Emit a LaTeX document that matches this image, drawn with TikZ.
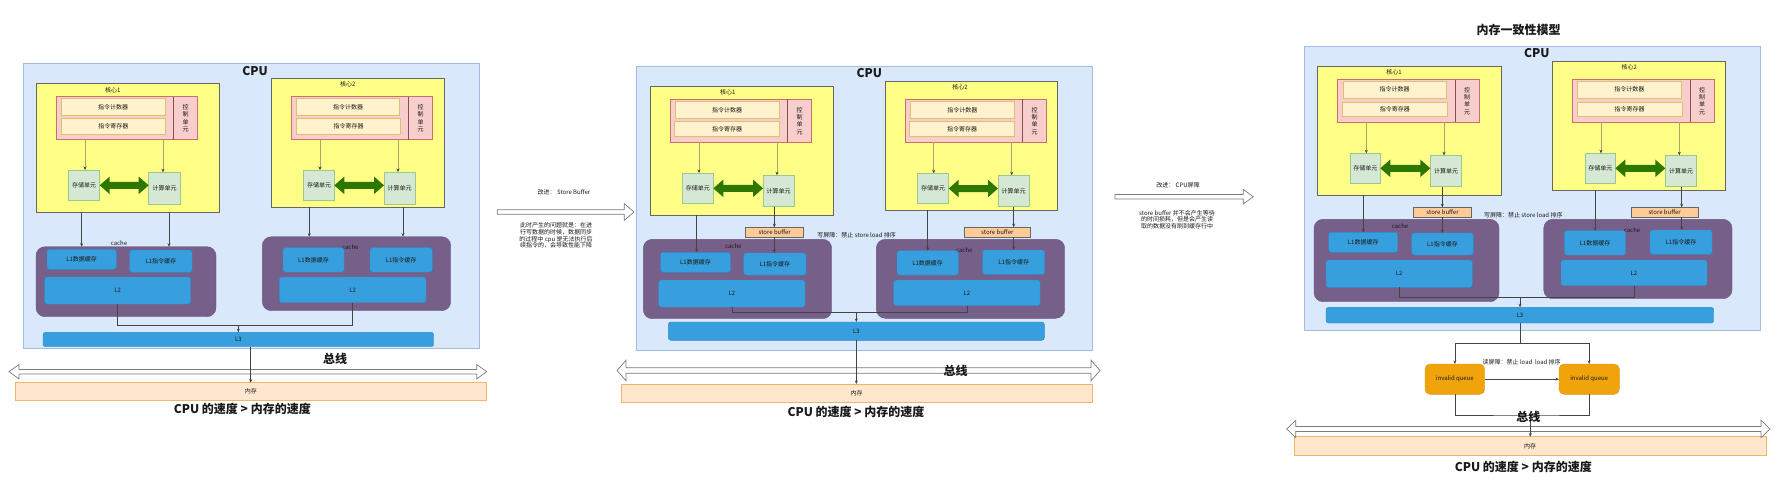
\documentclass[tikz,border=0pt]{standalone}
\usepackage{fontspec}
\setmainfont{Noto Sans CJK SC}
\usetikzlibrary{arrows.meta,calc}
\definecolor{cpuF}{HTML}{DAE8FC}\definecolor{cpuE}{HTML}{A3BCE3}
\definecolor{coreF}{HTML}{FFFF88}\definecolor{coreE}{HTML}{666666}
\definecolor{ctrlF}{HTML}{F8CECC}\definecolor{ctrlE}{HTML}{C8706C}
\definecolor{regF}{HTML}{FFF2CC}\definecolor{regE}{HTML}{E0C070}
\definecolor{unitF}{HTML}{D5E8D4}\definecolor{unitE}{HTML}{9CC98A}
\definecolor{garrow}{HTML}{2D7600}
\definecolor{olv}{HTML}{A8A86C}
\definecolor{cacheF}{HTML}{76608A}\definecolor{cacheE}{HTML}{6A5580}
\definecolor{blueF}{HTML}{389FDF}\definecolor{blueE}{HTML}{2A8AD0}
\definecolor{sbF}{HTML}{FFCC99}\definecolor{sbE}{HTML}{666666}
\definecolor{iqF}{HTML}{F0A30A}\definecolor{iqE}{HTML}{D99A1A}
\definecolor{memF}{HTML}{FFE6CC}\definecolor{memE}{HTML}{EBB86A}
\definecolor{busE}{HTML}{7A7A7A}
\definecolor{lineC}{HTML}{444444}
\newcommand{\smallcn}{\fontsize{6}{7}\selectfont}
\newcommand{\bigcn}{\fontsize{12}{14}\selectfont\bfseries}
\newcommand{\mkbox}[7]{\node[#2,minimum width={(#5-(#3))*1pt},minimum height={(#6-(#4))*1pt},font=\smallcn] (#1) at ({(#3+#5)/2},{(#4+#6)/2}) {#7};}
\newcommand{\dblfat}[6]{%
 \path[#1] let \p1=(#2), \p2=(#3) in
 (\x1,\y1) -- (\x1+#6pt,\y1+#5pt) -- (\x1+#6pt,\y1+#4pt) -- (\x2-#6pt,\y2+#4pt) -- (\x2-#6pt,\y2+#5pt) -- (\x2,\y2) -- (\x2-#6pt,\y2-#5pt) -- (\x2-#6pt,\y2-#4pt) -- (\x1+#6pt,\y1-#4pt) -- (\x1+#6pt,\y1-#5pt) -- cycle;}
\newcommand{\onefat}[6]{%
 \path[#1] let \p1=(#2), \p2=(#3) in
 (\x1,\y1+#4pt) -- (\x2-#6pt,\y2+#4pt) -- (\x2-#6pt,\y2+#5pt) -- (\x2,\y2) -- (\x2-#6pt,\y2-#5pt) -- (\x2-#6pt,\y2-#4pt) -- (\x1,\y1-#4pt) -- cycle;}
\begin{document}
\begin{tikzpicture}[x=1pt,y=-1pt,
 every node/.style={inner sep=0pt,outer sep=0pt,text=black!90},
 cpu/.style={draw=cpuE,fill=cpuF,line width=0.9pt},
 core/.style={draw=coreE,fill=coreF,line width=0.7pt},
 ctrl/.style={draw=ctrlE,fill=ctrlF,line width=0.7pt},
 reg/.style={draw=regE,fill=regF,line width=0.7pt},
 unit/.style={draw=unitE,fill=unitF,line width=0.7pt},
 cache/.style={draw=cacheE,fill=cacheF,rounded corners=9pt},
 blue/.style={draw=blueE,fill=blueF,rounded corners=2.5pt},
 sbuf/.style={draw=sbE,fill=sbF,line width=0.6pt},
 iq/.style={draw=iqE,fill=iqF,rounded corners=5pt},
 mem/.style={draw=memE,fill=memF,line width=0.7pt},
 bus/.style={draw=busE,fill=white,line width=0.7pt},
 green/.style={fill=garrow},
 lbl/.style={font=\smallcn},
 vt/.style={font=\fontsize{6}{7.3}\selectfont,align=center},
 para/.style={font=\fontsize{6}{6.8}\selectfont,align=center},
 big/.style={font=\bigcn},
 divl/.style={draw=ctrlE!70!black,line width=0.6pt},
 ln/.style={draw=lineC,line width=0.6pt},
 arr/.style={draw=lineC,line width=0.6pt,-{Stealth[length=3.5pt,width=3pt]}},
 oarr/.style={draw=olv,line width=0.8pt,-{Stealth[length=3.5pt,width=3pt,color=black!75]}}]
\useasboundingbox (0,0) rectangle (1792,487);

% ================= Panel A =================
\mkbox{cpuA}{cpu}{23}{63}{479}{348}{}
\node[big] (cpuAl) at (255,70.7) {CPU};
\mkbox{coreAa}{core}{36.3}{83.3}{219.3}{212.7}{}
\node[lbl] (coreAal) at (112.7,90) {核心1};
\mkbox{ctrlAa}{ctrl}{56}{96.7}{197.7}{139.7}{}
\draw[divl] (173.7,0 |- ctrlAa.north) -- (173.7,0 |- ctrlAa.south);
\mkbox{pcAa}{reg}{61}{98.3}{165.3}{115.3}{指令计数器}
\mkbox{irAa}{reg}{61}{118.3}{165.7}{134}{指令寄存器}
\node[vt] (ctAa) at (185.7,118.2) {控\\制\\单\\元};
\mkbox{stAa}{unit}{68.7}{170}{99.7}{200.7}{存储单元}
\mkbox{cuAa}{unit}{148.7}{172.3}{180.7}{204}{计算单元}
\draw[oarr] (85,0 |- ctrlAa.south) -- (85,0 |- stAa.north);
\draw[oarr] (163,0 |- ctrlAa.south) -- (163,0 |- cuAa.north);
\dblfat{green}{stAa.east}{cuAa.west |- stAa.east}{3.5}{8.8}{10}

\mkbox{coreAb}{core}{271}{78.3}{444.3}{207.3}{}
\node[lbl] (coreAbl) at (347.7,84.7) {核心2};
\mkbox{ctrlAb}{ctrl}{291.3}{96.7}{432.7}{139.7}{}
\draw[divl] (408.7,0 |- ctrlAb.north) -- (408.7,0 |- ctrlAb.south);
\mkbox{pcAb}{reg}{296.3}{98.3}{399.7}{115.3}{指令计数器}
\mkbox{irAb}{reg}{296.3}{118.3}{400.7}{134}{指令寄存器}
\node[vt] (ctAb) at (420.7,118.2) {控\\制\\单\\元};
\mkbox{stAb}{unit}{303.7}{170}{334.3}{200.7}{存储单元}
\mkbox{cuAb}{unit}{384}{172}{415.3}{204}{计算单元}
\draw[oarr] (320,0 |- ctrlAb.south) -- (320,0 |- stAb.north);
\draw[oarr] (398,0 |- ctrlAb.south) -- (398,0 |- cuAb.north);
\dblfat{green}{stAb.east}{cuAb.west |- stAb.east}{3.5}{8.8}{10}

\mkbox{cacheAa}{cache}{36}{246.7}{216}{316.7}{}
\node[lbl] (cacheAal) at (119,242.7) {cache};
\mkbox{l1dAa}{blue}{47}{249.3}{116.3}{269.3}{L1数据缓存}
\mkbox{l1iAa}{blue}{129.7}{250}{192}{272.3}{L1指令缓存}
\mkbox{l2Aa}{blue}{44.7}{277}{190.7}{304}{L2}
\draw[arr] (81.7,0 |- coreAa.south) -- (81.7,0 |- cacheAa.north);
\draw[arr] (169,0 |- coreAa.south) -- (169,0 |- cacheAa.north);

\mkbox{cacheAb}{cache}{262.3}{236.7}{450.7}{310.7}{}
\node[lbl] (cacheAbl) at (350.3,246.7) {cache};
\mkbox{l1dAb}{blue}{283}{247.7}{344}{272}{L1数据缓存}
\mkbox{l1iAb}{blue}{370}{247.7}{432.3}{272}{L1指令缓存}
\mkbox{l2Ab}{blue}{279.3}{277}{426}{302.7}{L2}
\draw[arr] (309.3,0 |- coreAb.south) -- (309.3,0 |- cacheAb.north);
\draw[arr] (403,0 |- coreAb.south) -- (403,0 |- cacheAb.north);

\mkbox{l3A}{blue}{43}{332.3}{433.7}{346.7}{L3}
\coordinate (jA) at (238.3,325.5);
\draw[ln] (l2Aa.south) |- (jA) -| (l2Ab.south);
\draw[arr] (jA) -- (jA |- l3A.north);

\mkbox{memA}{mem}{15}{382.7}{486.7}{400.3}{内存}
\coordinate (busAl) at (9,371.7);
\coordinate (busAr) at (486.7,371.7);
\dblfat{bus}{busAl}{busAr}{2.2}{7.2}{10}
\draw[arr] (250.7,0 |- l3A.south) -- (250.7,0 |- memA.north);
\node[big] (busAt) at (335,359.3) {总线};
\node[big] (spdA) at (242.3,408.5) {CPU 的速度 >\ 内存的速度};

% ---- A -> B
\coordinate (abl) at (497.3,212);
\coordinate (abr) at (634,212);
\onefat{bus}{abl}{abr}{2.2}{8.3}{9.7}
\node[lbl] (abt) at (564,192.7) {改进： Store Buffer};
\node[para] (abp) at (556,235.5) {此时产生的问题就是：在进\\行写数据的时候，数据同步\\的过程中 cpu 是无法执行后\\续指令的，会导致性能下降};

% ================= Panel B =================
\mkbox{cpuB}{cpu}{636.7}{66}{1092.7}{350}{}
\node[big] (cpuBl) at (869.3,73.3) {CPU};
\mkbox{coreBa}{core}{650.3}{86.7}{833.3}{215.3}{}
\node[lbl] (coreBal) at (727.7,92.7) {核心1};
\mkbox{ctrlBa}{ctrl}{670.3}{99.3}{811.3}{142.3}{}
\draw[divl] (787.7,0 |- ctrlBa.north) -- (787.7,0 |- ctrlBa.south);
\mkbox{pcBa}{reg}{675.3}{101.7}{779}{118}{指令计数器}
\mkbox{irBa}{reg}{674.3}{121.7}{779.7}{136.7}{指令寄存器}
\node[vt] (ctBa) at (799.5,120.8) {控\\制\\单\\元};
\mkbox{stBa}{unit}{682.3}{173}{713.3}{203.7}{存储单元}
\mkbox{cuBa}{unit}{763}{175.3}{794.3}{206.7}{计算单元}
\draw[oarr] (699,0 |- ctrlBa.south) -- (699,0 |- stBa.north);
\draw[oarr] (777,0 |- ctrlBa.south) -- (777,0 |- cuBa.north);
\dblfat{green}{stBa.east}{cuBa.west |- stBa.east}{3.5}{8.8}{10}

\mkbox{coreBb}{core}{885}{81.3}{1057.7}{210.3}{}
\node[lbl] (coreBbl) at (960,87.7) {核心2};
\mkbox{ctrlBb}{ctrl}{905}{99.3}{1046.3}{142.3}{}
\draw[divl] (1022.7,0 |- ctrlBb.north) -- (1022.7,0 |- ctrlBb.south);
\mkbox{pcBb}{reg}{910.3}{101.7}{1014.3}{118}{指令计数器}
\mkbox{irBb}{reg}{909.7}{121.7}{1014.3}{136.7}{指令寄存器}
\node[vt] (ctBb) at (1034.5,120.8) {控\\制\\单\\元};
\mkbox{stBb}{unit}{917.7}{173.3}{948.7}{203.7}{存储单元}
\mkbox{cuBb}{unit}{998}{175.3}{1029.3}{206.7}{计算单元}
\draw[oarr] (933.7,0 |- ctrlBb.south) -- (933.7,0 |- stBb.north);
\draw[oarr] (1011.7,0 |- ctrlBb.south) -- (1011.7,0 |- cuBb.north);
\dblfat{green}{stBb.east}{cuBb.west |- stBb.east}{3.5}{8.8}{10}

\mkbox{sbBa}{sbuf}{745.7}{227.3}{803.7}{237.3}{store buffer}
\mkbox{sbBb}{sbuf}{964.3}{227.3}{1030.3}{237.3}{store buffer}
\node[lbl] (wbB) at (856.7,235) {写屏障：禁止 store load 排序};

\mkbox{cacheBa}{cache}{643.3}{239.3}{831.7}{318.7}{}
\node[lbl] (cacheBal) at (733.3,246) {cache};
\mkbox{l1dBa}{blue}{660.7}{252.3}{730.3}{272.3}{L1数据缓存}
\mkbox{l1iBa}{blue}{743.7}{253}{806}{275}{L1指令缓存}
\mkbox{l2Ba}{blue}{658.7}{280}{805}{307}{L2}
\mkbox{cacheBb}{cache}{876.3}{239.3}{1064.7}{318.3}{}
\node[lbl] (cacheBbl) at (964.3,250) {cache};
\mkbox{l1dBb}{blue}{897}{250.7}{958.3}{275}{L1数据缓存}
\mkbox{l1iBb}{blue}{982.7}{250}{1044.7}{274.3}{L1指令缓存}
\mkbox{l2Bb}{blue}{893.7}{280}{1040}{305.7}{L2}

\draw[arr] (696.7,0 |- coreBa.south) -- (696.7,0 |- l1dBa.north);
\draw[arr] (774.3,0 |- cuBa.south) -- (774.3,0 |- sbBa.north);
\draw[arr] (774.3,0 |- sbBa.south) -- (774.3,0 |- l1iBa.north);
\draw[arr] (927.7,0 |- coreBb.south) -- (927.7,0 |- l1dBb.north);
\draw[arr] (1013.7,0 |- cuBb.south) -- (1013.7,0 |- sbBb.north);
\draw[arr] (1013.7,0 |- sbBb.south) -- (1013.7,0 |- l1iBb.north);

\mkbox{l3B}{blue}{668.3}{322}{1044.3}{340.3}{L3}
\coordinate (jB) at (856.3,312.7);
\draw[ln] (l2Ba.south) |- (jB) -| (l2Bb.south);
\draw[arr] (jB) -- (jB |- l3B.north);

\mkbox{memB}{mem}{621}{384}{1092.3}{402}{内存}
\coordinate (busBl) at (617,370.5);
\coordinate (busBr) at (1100,370.5);
\dblfat{bus}{busBl}{busBr}{2.8}{10.3}{9}
\draw[arr] (856.3,0 |- l3B.south) -- (856.3,0 |- memB.north);
\node[big] (busBt) at (955.7,370.7) {总线};
\node[big] (spdB) at (856,412.3) {CPU 的速度 >\ 内存的速度};

% ---- B -> C
\coordinate (bcl) at (1115,196.7);
\coordinate (bcr) at (1253.3,196.7);
\onefat{bus}{bcl}{bcr}{2.3}{7.2}{10}
\node[lbl] (bct) at (1178,185) {改进： CPU屏障};
\node[para] (bcp) at (1177,219.7) {store buffer 并不会产生等待\\的时间损耗，但是会产生读\\取的数据没有刷到缓存行中};

% ================= Panel C =================
\node[big] (titleC) at (1518.7,30) {内存一致性模型};
\mkbox{cpuC}{cpu}{1304.3}{46}{1760}{330}{}
\node[big] (cpuCl) at (1536.7,53.3) {CPU};
\mkbox{coreCa}{core}{1317.7}{66.7}{1501}{195.3}{}
\node[lbl] (coreCal) at (1394,72.7) {核心1};
\mkbox{ctrlCa}{ctrl}{1337.3}{79.7}{1479}{122.3}{}
\draw[divl] (1455.3,0 |- ctrlCa.north) -- (1455.3,0 |- ctrlCa.south);
\mkbox{pcCa}{reg}{1343}{81.3}{1446}{98}{指令计数器}
\mkbox{irCa}{reg}{1342.3}{102}{1447.3}{116.7}{指令寄存器}
\node[vt] (ctCa) at (1467.2,101) {控\\制\\单\\元};
\mkbox{stCa}{unit}{1350.3}{153.3}{1380.3}{183.3}{存储单元}
\mkbox{cuCa}{unit}{1430.3}{155.3}{1461.7}{186.7}{计算单元}
\draw[oarr] (1366.3,0 |- ctrlCa.south) -- (1366.3,0 |- stCa.north);
\draw[oarr] (1444,0 |- ctrlCa.south) -- (1444,0 |- cuCa.north);
\dblfat{green}{stCa.east}{cuCa.west |- stCa.east}{3.5}{8.8}{10}

\mkbox{coreCb}{core}{1552.7}{61.7}{1725.3}{190}{}
\node[lbl] (coreCbl) at (1629.3,67.7) {核心2};
\mkbox{ctrlCb}{ctrl}{1572.3}{79.7}{1714}{122.3}{}
\draw[divl] (1690.3,0 |- ctrlCb.north) -- (1690.3,0 |- ctrlCb.south);
\mkbox{pcCb}{reg}{1577.7}{81.3}{1681}{98}{指令计数器}
\mkbox{irCb}{reg}{1577}{102}{1682.3}{116.7}{指令寄存器}
\node[vt] (ctCb) at (1702.2,101) {控\\制\\单\\元};
\mkbox{stCb}{unit}{1585.3}{153.3}{1615.3}{183.3}{存储单元}
\mkbox{cuCb}{unit}{1665.3}{155.3}{1696.7}{186.7}{计算单元}
\draw[oarr] (1601,0 |- ctrlCb.south) -- (1601,0 |- stCb.north);
\draw[oarr] (1679.3,0 |- ctrlCb.south) -- (1679.3,0 |- cuCb.north);
\dblfat{green}{stCb.east}{cuCb.west |- stCb.east}{3.5}{8.8}{10}

\mkbox{sbCa}{sbuf}{1413.3}{207.3}{1471.7}{217.3}{store buffer}
\mkbox{sbCb}{sbuf}{1631.3}{207.3}{1698}{217.3}{store buffer}
\node[lbl] (wbC) at (1523.3,215) {写屏障：禁止 store load 排序};

\mkbox{cacheCa}{cache}{1314}{219.3}{1499}{301.7}{}
\node[lbl] (cacheCal) at (1400,226) {cache};
\mkbox{l1dCa}{blue}{1328.7}{232.3}{1397.7}{252.3}{L1数据缓存}
\mkbox{l1iCa}{blue}{1411.7}{233}{1473.3}{255}{L1指令缓存}
\mkbox{l2Ca}{blue}{1326}{260}{1472.3}{287.3}{L2}
\mkbox{cacheCb}{cache}{1543.7}{219.3}{1732}{298.7}{}
\node[lbl] (cacheCbl) at (1632,230) {cache};
\mkbox{l1dCb}{blue}{1564.3}{230.7}{1625.7}{255}{L1数据缓存}
\mkbox{l1iCb}{blue}{1650}{230}{1712}{254.3}{L1指令缓存}
\mkbox{l2Cb}{blue}{1561}{260}{1707}{285.7}{L2}

\draw[arr] (1363.3,0 |- coreCa.south) -- (1363.3,0 |- l1dCa.north);
\draw[arr] (1442.3,0 |- cuCa.south) -- (1442.3,0 |- sbCa.north);
\draw[arr] (1442.3,0 |- sbCa.south) -- (1442.3,0 |- l1iCa.north);
\draw[arr] (1595,0 |- coreCb.south) -- (1595,0 |- l1dCb.north);
\draw[arr] (1681.7,0 |- cuCb.south) -- (1681.7,0 |- sbCb.north);
\draw[arr] (1681.7,0 |- sbCb.south) -- (1681.7,0 |- l1iCb.north);

\mkbox{l3C}{blue}{1326}{307.3}{1713.7}{323}{L3}
\coordinate (jC) at (1520,297.3);
\draw[ln] (l2Ca.south) |- (jC) -| (l2Cb.south);
\draw[arr] (jC) -- (jC |- l3C.north);

\mkbox{iqCa}{iq}{1425}{364}{1484.7}{394.3}{invalid queue}
\mkbox{iqCb}{iq}{1559}{364}{1619.3}{394.3}{invalid queue}
\coordinate (sC) at (1520,343.3);
\draw[ln] (l3C.south -| sC) -- (sC);
\draw[arr] (sC) -| (iqCa.north);
\draw[arr] (sC) -| (iqCb.north);
\draw[arr] (iqCa) -- (iqCb);
\node[lbl] (rbC) at (1521.7,362.3) {读屏障：禁止 load\ \ load 排序};

\mkbox{memC}{mem}{1294.3}{436.7}{1766}{455}{内存}
\coordinate (busCl) at (1286.7,429);
\coordinate (busCr) at (1770,429);
\dblfat{bus}{busCl}{busCr}{2.5}{8.7}{9}
\coordinate (jC2) at (1530.3,415);
\draw[ln] (iqCa.south) |- (jC2) -| (iqCb.south);
\draw[arr] (jC2) -- (jC2 |- memC.north);
\node[big] (busCt) at (1528.3,417.3) {总线};
\node[big] (spdC) at (1523.3,466.7) {CPU 的速度 >\ 内存的速度};
\end{tikzpicture}
\end{document}
